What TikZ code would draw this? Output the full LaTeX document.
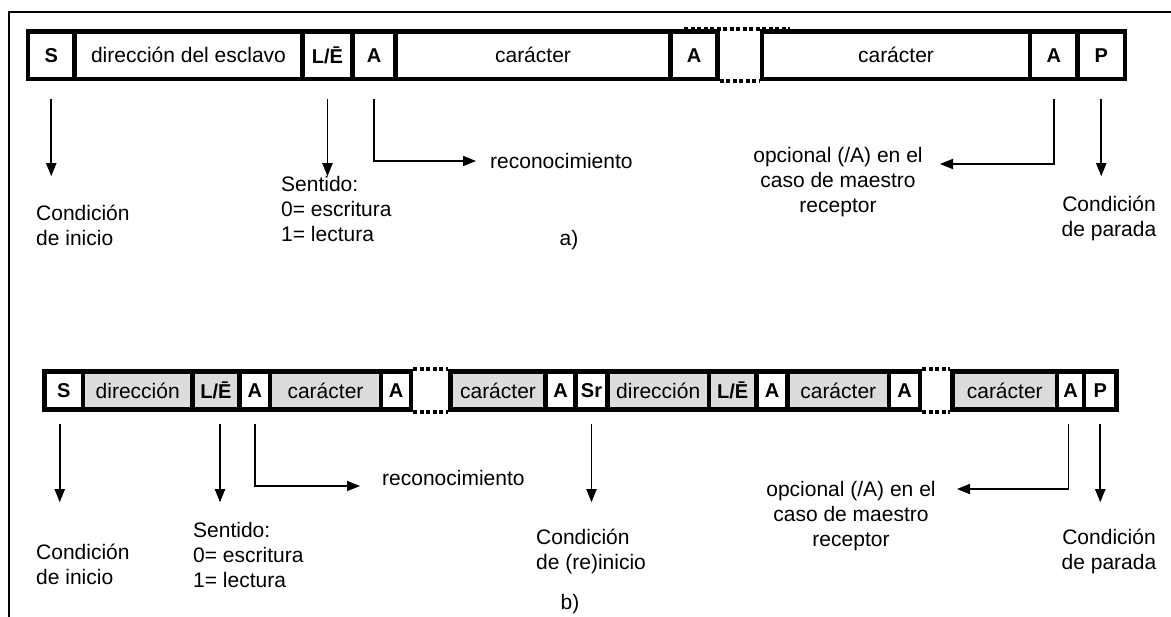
\documentclass[tikz,border=0pt]{standalone}
\usepackage{fontspec}
\setmainfont{Liberation Sans}
\usetikzlibrary{arrows.meta}
\definecolor{fieldgray}{RGB}{220,220,220}
\tikzset{
  fld/.style={draw=black, line width=4.5pt, inner sep=0pt, fill=white,
    font=\fontsize{21}{26}\selectfont},
  bfld/.style={font=\bfseries\fontsize{20}{24}\selectfont},
  shaded/.style={fill=fieldgray},
  lbl/.style={inner sep=0pt, font=\fontsize{21}{25}\selectfont},
  arr/.style={draw=black, line width=1.8pt,
    -{Triangle[length=13pt,width=10pt]}},
  gapline/.style={draw=black, line width=4pt, dash pattern=on 4pt off 2.5pt},
  frameline/.style={draw=black, line width=1.6pt}
}
% one field of the upper frame: name, left, right, text, extra style
\newcommand\upperfield[5]{%
  \pgfmathsetmacro\fldw{#3-#2}\pgfmathsetmacro\fldx{(#2+#3)/2}%
  \node[fld,#5,minimum width=\fldw pt,minimum height=47.5pt] (#1) at (\fldx,55.25) {#4};}
% one field of the lower frame
\newcommand\lowerfield[5]{%
  \pgfmathsetmacro\fldw{#3-#2}\pgfmathsetmacro\fldx{(#2+#3)/2}%
  \node[fld,#5,minimum width=\fldw pt,minimum height=38pt] (#1) at (\fldx,390.5) {#4};}
\begin{document}
\begin{tikzpicture}[x=1pt,y=-1pt]
\useasboundingbox (0,0) rectangle (1171,617);
\fill[white] (0,0) rectangle (1171,617);

% surrounding frame
\coordinate (frTL) at (9,12);
\coordinate (frTR) at (1171,12);
\coordinate (frBL) at (9,617);
\draw[frameline] (frTR) -- (frTL) -- (frBL);

% ---------- a) single transfer ----------
\upperfield{tS}{28}{74.5}{S}{bfld}
\upperfield{tDir}{74.5}{302.5}{dirección del esclavo}{}
\upperfield{tLE}{302.5}{352.5}{L/Ē}{bfld}
\upperfield{tA1}{352.5}{395.5}{A}{bfld}
\upperfield{tC1}{395.5}{670.5}{carácter}{}
\upperfield{tA2}{670.5}{717.5}{A}{bfld}
\upperfield{tC2}{762}{1030}{carácter}{}
\upperfield{tA3}{1030}{1077.5}{A}{bfld}
\upperfield{tP}{1077.5}{1125}{P}{bfld}
% omitted characters
\draw[gapline] (tA2.north west |- 0,29.5) ++(16,0) -- ([xshift=30pt]tC2.north west |- 0,29.5);
\draw[gapline] (tA2.south east) -- (tC2.south west);

\node[lbl, anchor=west] (recA) at (490,161) {reconocimiento};
\node[lbl, align=center] (optA) at (838,182) {opcional (/A) en el\\caso de maestro\\receptor};
\node[lbl, align=left, anchor=west] (iniA) at (36,225) {Condición\\de inicio};
\node[lbl, align=left, anchor=west] (senA) at (281,209) {Sentido:\\0= escritura\\1= lectura};
\node[lbl, align=center] (parA) at (1109,218) {Condición\\de parada};
\node[lbl] (capA) at (569,240) {a)};
\coordinate (optTipA) at (940,164);

\draw[arr] ([yshift=-18pt]tS.south) -- ++(0,77);
\draw[arr] ([yshift=-18pt]tLE.south) -- ++(0,77);
\draw[arr, shorten >=14pt] ([yshift=-18pt]tA1.south) |- (recA.west);
\draw[arr] ([yshift=-18pt]tA3.south) |- (optTipA);
\draw[arr] ([yshift=-18pt]tP.south) -- ++(0,77);

% ---------- b) transfer with repeated start ----------
\lowerfield{bS}{44.5}{83}{S}{bfld}
\lowerfield{bDir}{83}{192.5}{dirección}{shaded}
\lowerfield{bLE}{192.5}{239.5}{L/Ē}{bfld,shaded}
\lowerfield{bA1}{239.5}{270}{A}{bfld}
\lowerfield{bC1}{270}{381}{carácter}{shaded}
\lowerfield{bA2}{381}{411}{A}{bfld}
\lowerfield{bC2}{450.5}{545.5}{carácter}{shaded}
\lowerfield{bA3}{545.5}{575.5}{A}{bfld}
\lowerfield{bSr}{575.5}{607.5}{Sr}{bfld}
\lowerfield{bDir2}{607.5}{709}{dirección}{shaded}
\lowerfield{bLE2}{709}{756.5}{L/Ē}{bfld,shaded}
\lowerfield{bA4}{756.5}{787.5}{A}{bfld}
\lowerfield{bC3}{787.5}{889}{carácter}{shaded}
\lowerfield{bA5}{889}{920}{A}{bfld}
\lowerfield{bC4}{952.5}{1057}{carácter}{shaded}
\lowerfield{bA6}{1057}{1084}{A}{bfld}
\lowerfield{bP}{1084}{1116.5}{P}{bfld}
% omitted characters
\draw[gapline] (bA2.north east) -- (bC2.north west);
\draw[gapline] (bA2.south east) -- (bC2.south west);
\draw[gapline] (bA5.north east) -- (bC4.north west);
\draw[gapline] (bA5.south east) -- (bC4.south west);

\node[lbl, anchor=west] (recB) at (382,478) {reconocimiento};
\node[lbl, align=center] (optB) at (851,516) {opcional (/A) en el\\caso de maestro\\receptor};
\node[lbl, align=left, anchor=west] (iniB) at (36,564) {Condición\\de inicio};
\node[lbl, align=left, anchor=west] (senB) at (193,555) {Sentido:\\0= escritura\\1= lectura};
\node[lbl, align=left, anchor=west] (reB) at (536,551) {Condición\\de (re)inicio};
\node[lbl, align=center] (parB) at (1109,551) {Condición\\de parada};
\node[lbl] (capB) at (570,604) {b)};
\coordinate (recTipB) at (360,486);
\coordinate (optTipB) at (957,489);

\draw[arr] ([xshift=-4pt,yshift=-12.5pt]bS.south) -- ++(0,78);
\draw[arr] ([xshift=4pt,yshift=-12.5pt]bLE.south) -- ++(0,78);
\draw[arr] ([yshift=-12.5pt]bA1.south) |- (recTipB);
\draw[arr] ([yshift=-12.5pt]bSr.south) -- ++(0,78);
\draw[arr] ([xshift=-2pt,yshift=-12.5pt]bA6.south) |- (optTipB);
\draw[arr] ([yshift=-12.5pt]bP.south) -- ++(0,78);
\end{tikzpicture}
\end{document}
